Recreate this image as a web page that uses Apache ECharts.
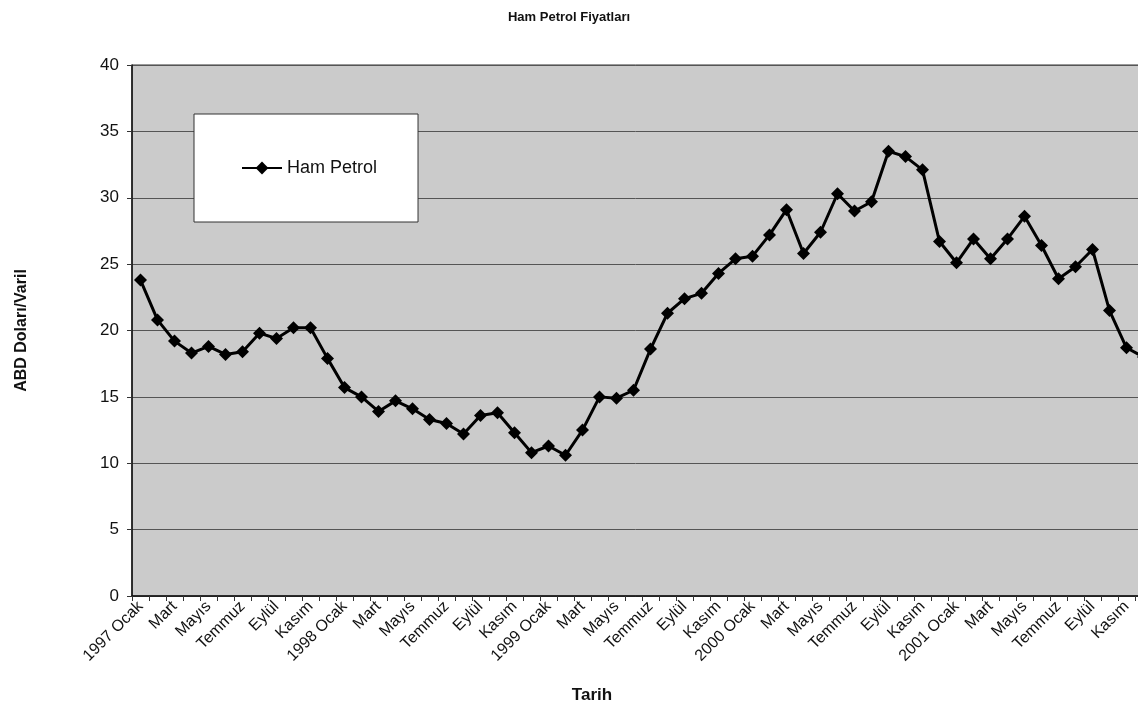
<!DOCTYPE html>
<html>
<head>
<meta charset="utf-8">
<script src="https://cdn.jsdelivr.net/npm/echarts@6/dist/echarts.min.js"></script>
<style>html,body{margin:0;padding:0;background:#fff}#c{width:1138px;height:713px}</style>
</head>
<body>
<div id="c"></div>
<script>
const months = ["Ocak","Şubat","Mart","Nisan","Mayıs","Haziran","Temmuz","Ağustos","Eylül","Ekim","Kasım","Aralık"];
const years = [1997, 1998, 1999, 2000, 2001];
const categories = [];
years.forEach(y => months.forEach((m, i) => categories.push(i === 0 ? y + " " + m : m)));

const price1997 = [23.8, 20.8, 19.2, 18.3, 18.8, 18.2, 18.4, 19.8, 19.4, 20.2, 20.2, 17.9];
const price1998 = [15.7, 15.0, 13.9, 14.7, 14.1, 13.3, 13.0, 12.2, 13.6, 13.8, 12.3, 10.8];
const price1999 = [11.3, 10.6, 12.5, 15.0, 14.9, 15.5, 18.6, 21.3, 22.4, 22.8, 24.3, 25.4];
const price2000 = [25.6, 27.2, 29.1, 25.8, 27.4, 30.3, 29.0, 29.7, 33.5, 33.1, 32.1, 26.7];
const price2001 = [25.1, 26.9, 25.4, 26.9, 28.6, 26.4, 23.9, 24.8, 26.1, 21.5, 18.7, 18.0];
const hamPetrol = [].concat(price1997, price1998, price1999, price2000, price2001);

const chart = echarts.init(document.getElementById('c'));
const font = 'Liberation Sans, Arial, sans-serif';
chart.setOption({
  animation: false,
  backgroundColor: '#ffffff',
  title: {
    text: 'Ham Petrol Fiyatları',
    left: 'center',
    top: 6,
    textStyle: { fontFamily: font, fontSize: 13, fontWeight: 'bold', color: '#111' }
  },
  legend: {
    left: 194, top: 114,
    padding: [45, 41, 45, 47],
    backgroundColor: '#ffffff',
    borderColor: '#333',
    borderWidth: 1,
    borderRadius: 0,
    itemWidth: 40, itemHeight: 16,
    textStyle: { fontFamily: font, fontSize: 18, color: '#111' },
    data: ['Ham Petrol']
  },
  grid: {
    left: 132, top: 65, right: -14, bottom: 117,
    show: true,
    backgroundColor: '#cbcbcb',
    borderColor: '#333',
    borderWidth: 1,
    containLabel: false,
    outerBoundsMode: 'none'
  },
  xAxis: {
    type: 'category',
    data: categories,
    boundaryGap: true,
    name: 'Tarih',
    nameLocation: 'middle',
    nameGap: 91,
    nameTextStyle: { fontFamily: font, fontSize: 17, fontWeight: 'bold', color: '#111', padding: [0, 100, 0, 0] },
    axisLine: { lineStyle: { color: '#111', width: 1.5 } },
    axisTick: { show: true, interval: 0, length: 5, lineStyle: { color: '#333' } },
    axisLabel: { interval: 1, rotate: 45, fontFamily: font, fontSize: 16, color: '#111', margin: 8 },
    splitLine: { show: false }
  },
  yAxis: {
    type: 'value',
    min: 0, max: 40, interval: 5,
    name: 'ABD Doları/Varil',
    nameLocation: 'middle',
    nameGap: 102,
    nameTextStyle: { fontFamily: font, fontSize: 16, fontWeight: 'bold', color: '#111' },
    axisLine: { show: true, lineStyle: { color: '#111', width: 1.5 } },
    axisTick: { show: true, length: 5, lineStyle: { color: '#333' } },
    axisLabel: { fontFamily: font, fontSize: 17, color: '#111', margin: 13 },
    splitLine: { show: true, lineStyle: { color: '#555', width: 1 } }
  },
  series: [{
    name: 'Ham Petrol',
    type: 'line',
    data: hamPetrol,
    symbol: 'diamond',
    symbolSize: 13,
    showAllSymbol: true,
    lineStyle: { color: '#000', width: 3 },
    itemStyle: { color: '#000' }
  }]
});
</script>
</body>
</html>
